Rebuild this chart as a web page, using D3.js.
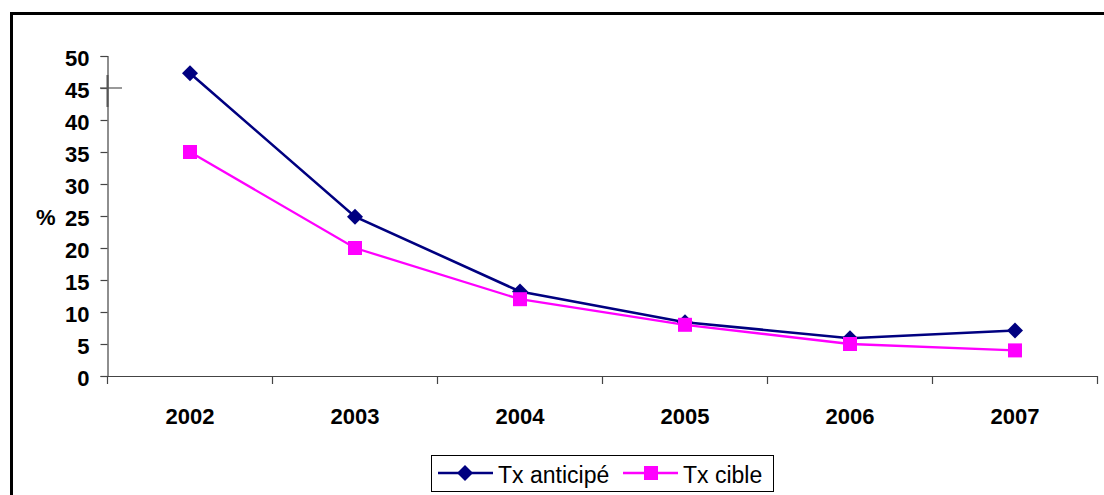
<!DOCTYPE html>
<html><head><meta charset="utf-8">
<script src="https://cdn.jsdelivr.net/npm/d3@7"></script>
<style>body{margin:0;background:#fff}svg{display:block}</style>
</head><body>
<svg id="c" width="1104" height="495"></svg>
<script>
const years = ["2002","2003","2004","2005","2006","2007"];
const anticipe = [47.3, 24.9, 13.2, 8.4, 5.9, 7.1];
const cible = [35, 20, 12, 8, 5, 4];
const yTicks = [0,5,10,15,20,25,30,35,40,45,50];
const seriesNames = ["Tx anticipé","Tx cible"];
const colors = ["#000080","#FF00FF"];

const FONT = "Liberation Sans, Arial, sans-serif";
const svg = d3.select("#c");
// outer frame
svg.append("rect").attr("x",11.5).attr("y",13.5).attr("width",1200).attr("height",600)
  .attr("fill","none").attr("stroke","#000").attr("stroke-width",3);

const L=107.5, R=1097.5, T=56, B=376;
const x = d3.scaleBand().domain(years).range([L,R]);
const y = d3.scaleLinear().domain([0,50]).range([B,T]);

const axisColor="#444";
// y axis
const ya = svg.append("g").attr("transform",`translate(${L},0)`)
  .call(d3.axisLeft(y).tickValues(yTicks).tickSize(7).tickPadding(11));
ya.select(".domain").attr("stroke",axisColor).attr("stroke-width",1.2);
ya.selectAll(".tick line").attr("stroke",axisColor).attr("stroke-width",1.2);
ya.selectAll("text").attr("font-family",FONT).attr("dy","0.42em")
  .attr("font-weight","bold").attr("font-size",22).attr("fill","#000");

// x axis
const xa = svg.append("g").attr("transform",`translate(0,${B})`)
  .call(d3.axisBottom(x).tickSize(0).tickPadding(32));
xa.select(".domain").attr("stroke",axisColor).attr("stroke-width",1.2);
xa.selectAll("text").attr("font-family",FONT)
  .attr("font-weight","bold").attr("font-size",22).attr("fill","#000");
// category boundary ticks
const bounds = years.map(d=>x(d)).concat([x(years[years.length-1])+x.bandwidth()]);
svg.append("g").selectAll("line").data(bounds).join("line")
  .attr("x1",d=>d).attr("x2",d=>d).attr("y1",B).attr("y2",B+8)
  .attr("stroke",axisColor).attr("stroke-width",1.2);

// "%" axis title
svg.append("text").attr("x",36).attr("y",y(25)).attr("dy","0.42em")
  .attr("font-family",FONT).attr("font-weight","bold")
  .attr("font-size",22).text("%");

// crosshair artifact
svg.append("line").attr("x1",100).attr("x2",122).attr("y1",y(45)).attr("y2",y(45)).attr("stroke","#555").attr("stroke-width",1.2);
svg.append("line").attr("x1",L).attr("x2",L).attr("y1",y(45)-13).attr("y2",y(45)+19).attr("stroke","#555").attr("stroke-width",2);

const cx = d=>x(d)+x.bandwidth()/2;
const line = d3.line().x(d=>cx(d[0])).y(d=>y(d[1]));
const dataA = years.map((d,i)=>[d,anticipe[i]]);
const dataC = years.map((d,i)=>[d,cible[i]]);

svg.append("path").datum(dataA).attr("d",line).attr("fill","none").attr("stroke",colors[0]).attr("stroke-width",2.6);
svg.append("path").datum(dataC).attr("d",line).attr("fill","none").attr("stroke",colors[1]).attr("stroke-width",2.3);

const diamond = (cx0,cy0,r)=>`M${cx0},${cy0-r}L${cx0+r},${cy0}L${cx0},${cy0+r}L${cx0-r},${cy0}Z`;
svg.append("g").selectAll("path").data(dataA).join("path")
  .attr("d",d=>diamond(cx(d[0]),y(d[1]),8)).attr("fill",colors[0]);
svg.append("g").selectAll("rect").data(dataC).join("rect")
  .attr("x",d=>cx(d[0])-7).attr("y",d=>y(d[1])-7).attr("width",14).attr("height",14).attr("fill",colors[1]);

// legend
const lg = svg.append("g");
lg.append("rect").attr("x",431.5).attr("y",455.5).attr("width",342).attr("height",36)
  .attr("fill","#fff").attr("stroke","#000").attr("stroke-width",1);
const legItems = [{x0:438,x1:493,mx:465,tx:498},{x0:623,x1:678,mx:651,tx:683}];
legItems.forEach((it,i)=>{
  const ly=473;
  lg.append("line").attr("x1",it.x0).attr("x2",it.x1).attr("y1",ly).attr("y2",ly).attr("stroke",colors[i]).attr("stroke-width",2.5);
  if(i===0) lg.append("path").attr("d",diamond(it.mx,ly,8)).attr("fill",colors[0]);
  else lg.append("rect").attr("x",it.mx-7).attr("y",ly-7).attr("width",14).attr("height",14).attr("fill",colors[1]);
  lg.append("text").attr("x",it.tx).attr("y",483)
    .attr("font-family",FONT).attr("font-size",23).text(seriesNames[i]);
});
</script>
</body></html>
